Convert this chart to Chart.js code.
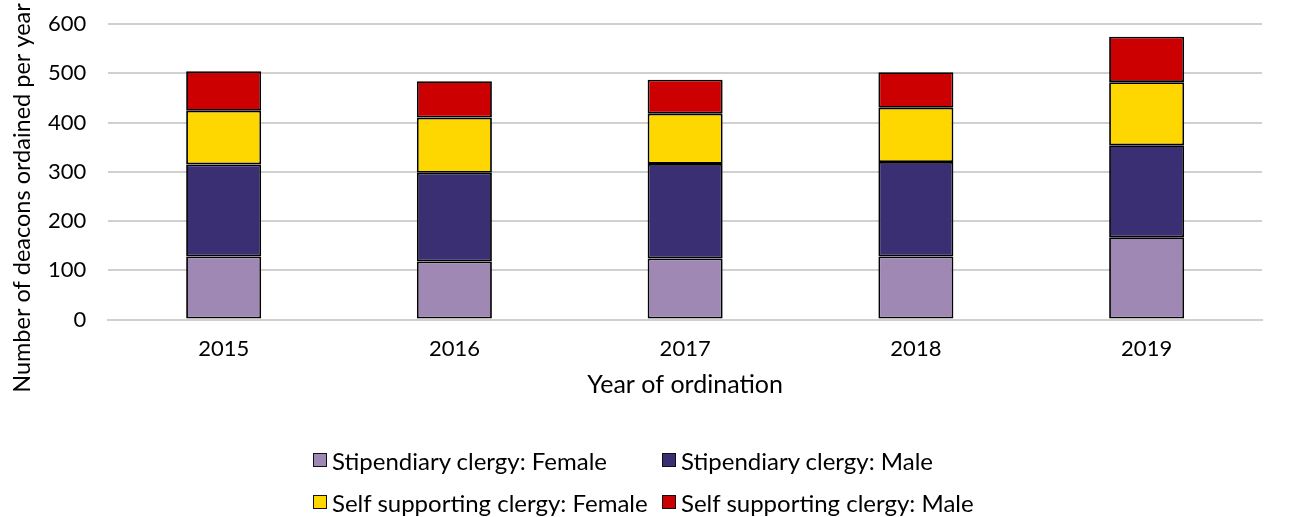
<!DOCTYPE html>
<html>
<head>
<meta charset="utf-8">
<script src="https://cdn.jsdelivr.net/npm/chart.js@4"></script>
<style>
  body { margin: 0; background: #fff; }
  #wrap { position: relative; width: 1289px; height: 517px; }
  #legend { position: absolute; left: 313px; top: 439px; font-family: Lato, sans-serif; font-size: 24px; color: #000;
            display: grid; grid-template-columns: 349px auto; grid-auto-rows: 42px; align-items: center; }
  .item { display: flex; align-items: center; white-space: nowrap; }
  .box { width: 12px; height: 12px; border: 1px solid #111; margin-right: 5px; }
</style>
</head>
<body>
<div id="wrap">
  <canvas id="chart" width="1289" height="517"></canvas>
  <div id="legend"></div>
</div>
<script>
document.addEventListener('DOMContentLoaded', function() {
    const years = ['2015', '2016', '2017', '2018', '2019'];
    const stipFemale = [128, 118, 124, 128, 167];
    const stipMale = [187, 180, 192, 192, 187];
    const selfFemale = [109, 112, 102, 110, 128];
    const selfMale = [80, 74, 69, 72, 92];
    const seriesNames = ['Stipendiary clergy: Female', 'Stipendiary clergy: Male', 'Self supporting clergy: Female', 'Self supporting clergy: Male'];
    const colors = ['#a088b4', '#3a2f72', '#ffd700', '#cc0000'];
    const yTitle = 'Number of deacons ordained per year';

    const font = 'Lato, sans-serif';
    const values = [stipFemale, stipMale, selfFemale, selfMale];

    // y title drawn by hand so it can sit lower than the plot centre, like the original
    const yTitlePlugin = {
        id: 'yTitle',
        afterDraw(chart) {
            const ctx = chart.ctx;
            ctx.save();
            ctx.translate(22, 198);
            ctx.rotate(-Math.PI / 2);
            ctx.font = '23.5px ' + font;
            ctx.fillStyle = '#000';
            ctx.textAlign = 'center';
            ctx.textBaseline = 'middle';
            ctx.fillText(yTitle, 0, 0);
            ctx.restore();
        }
    };

    const chart = new Chart(document.getElementById('chart'), {
        type: 'bar',
        data: {
            labels: years,
            datasets: values.map((v, i) => ({
                label: seriesNames[i],
                data: v,
                backgroundColor: colors[i],
                borderColor: '#000',
                borderWidth: 1.8,
                borderSkipped: false,
                categoryPercentage: 1,
                barPercentage: 0.325,
            })),
        },
        options: {
            responsive: false,
            animation: false,
            layout: { padding: { left: 26, right: 27, top: 24, bottom: 117 } },
            plugins: {
                legend: { display: false },
                tooltip: { enabled: false },
            },
            scales: {
                x: {
                    stacked: true,
                    grid: { display: false, drawTicks: false },
                    border: { display: true, color: '#d0d0d0', width: 2 },
                    ticks: { color: '#000', font: { family: font, size: 22 }, padding: 16 },
                    title: {
                        display: true,
                        text: 'Year of ordination',
                        color: '#000',
                        font: { family: font, size: 25 },
                        padding: { top: -8, bottom: 0 },
                    },
                },
                y: {
                    stacked: true,
                    min: 0,
                    max: 600,
                    ticks: { stepSize: 100, color: '#000', font: { family: font, size: 22 }, padding: 22 },
                    grid: { color: '#d0d0d0', lineWidth: 2, drawTicks: false },
                    border: { display: false },
                    afterFit(scale) {
                        scale.paddingTop = 0;
                        scale.paddingBottom = 0;
                    },
                },
            },
        },
        plugins: [yTitlePlugin],
    });

    // legend as a two column grid, like the original
    const legend = document.getElementById('legend');
    chart.data.datasets.forEach(ds => {
        const item = document.createElement('div');
        item.className = 'item';
        const box = document.createElement('span');
        box.className = 'box';
        box.style.background = ds.backgroundColor;
        const txt = document.createElement('span');
        txt.textContent = ds.label;
        item.appendChild(box);
        item.appendChild(txt);
        legend.appendChild(item);
    });
});
</script>
</body>
</html>
